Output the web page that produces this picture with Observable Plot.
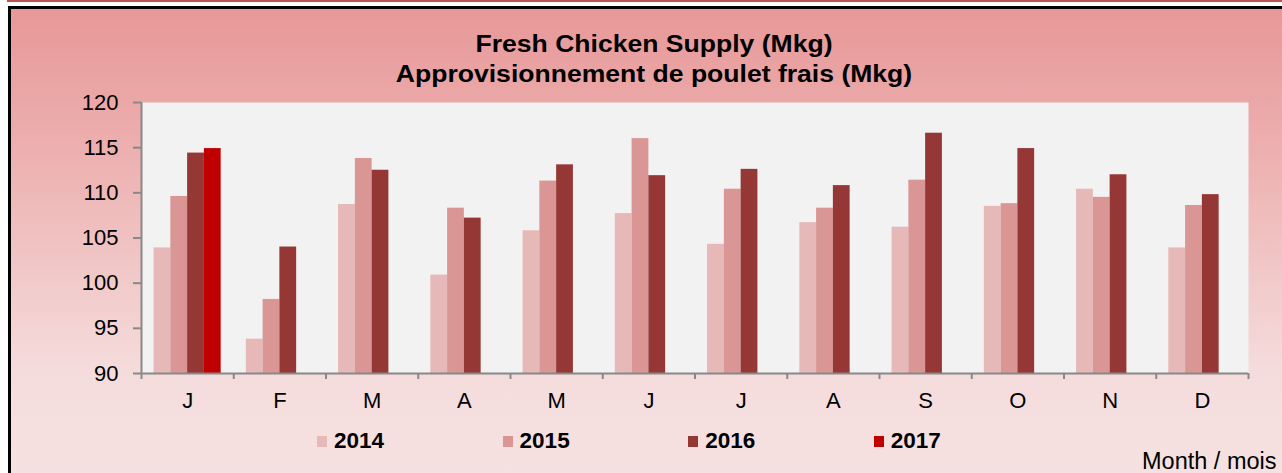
<!DOCTYPE html>
<html>
<head>
<meta charset="utf-8">
<script src="https://cdn.jsdelivr.net/npm/d3@7"></script>
<script src="https://cdn.jsdelivr.net/npm/@observablehq/plot@0.6"></script>
<style>
  html, body { margin: 0; padding: 0; background: #fff; }
  body { font-family: "Liberation Sans", Arial, sans-serif; }
  #wrap { position: relative; width: 1282px; height: 473px; overflow: hidden; background: #fff; }
  #redline { position: absolute; left: 7px; top: 0; width: 1280px; height: 2px; background: #C0504D; }
  #box { position: absolute; left: 8px; top: 6px; width: 1300px; height: 490px; box-sizing: border-box;
         border: 3px solid #000; background: linear-gradient(to bottom, #E79898 0%, #EDB0B0 30%, #F5DCDC 75%, #F6E2E2 100%); }
  #title { position: absolute; left: 0; top: 29px; width: 1308px; text-align: center; font-weight: bold;
           font-size: 23.5px; line-height: 30px; color: #000; transform: scaleX(1.13); transform-origin: 654px 0; }
  #chart { position: absolute; left: 0; top: 0; }
  #legend { position: absolute; left: 0; top: 0; width: 1282px; height: 473px; pointer-events: none; }
  .item { position: absolute; top: 427px; height: 28px; display: flex; align-items: center; }
  .sw { width: 10px; height: 11px; margin-right: 7px; }
  .lt { display: inline-block; font-weight: bold; font-size: 22.5px; color: #000; }
  #unit { position: absolute; left: 1142px; top: 446px; font-size: 23.5px; line-height: 30px; color: #000; }
</style>
</head>
<body>
<div id="wrap">
  <div id="redline"></div>
  <div id="box"></div>
  <div id="title">Fresh Chicken Supply (Mkg)<br>Approvisionnement de poulet frais (Mkg)</div>
  <div id="chart"></div>
  <div id="legend"></div>
  <div id="unit">Month / mois</div>
</div>
<script>
// ---- data ----
const months = ["J", "F", "M", "A", "M", "J", "J", "A", "S", "O", "N", "D"];
const years = ["2014", "2015", "2016", "2017"];
const s2014 = [103.9, 93.8, 108.7, 100.9, 105.8, 107.7, 104.3, 106.7, 106.2, 108.5, 110.4, 103.9];
const s2015 = [109.6, 98.2, 113.8, 108.3, 111.3, 116.0, 110.4, 108.3, 111.4, 108.8, 109.5, 108.6];
const s2016 = [114.4, 104.0, 112.5, 107.2, 113.1, 111.9, 112.6, 110.8, 116.6, 114.9, 112.0, 109.8];
const s2017 = [114.9, null, null, null, null, null, null, null, null, null, null, null];
const yTicks = [90, 95, 100, 105, 110, 115, 120];
const colors = ["#E6B8B7", "#DA9694", "#953735", "#C00000"];

// ---- layout within each month slot (Excel gap width 150%) ----
const barW = 1 / 5.5;
const gapOff = 0.75 / 5.5;

const series = [s2014, s2015, s2016, s2017];
const rows = [];
series.forEach((s, k) => s.forEach((v, i) => {
  if (v != null) rows.push({month: i, k, year: years[k], value: v});
}));

const yMin = yTicks[0], yMax = yTicks[yTicks.length - 1];

const chart = Plot.plot({
  width: 1282,
  height: 473,
  marginLeft: 141,
  marginRight: 34,
  marginTop: 102,
  marginBottom: 100,
  style: { background: "transparent", fontFamily: "'Liberation Sans', Arial, sans-serif", color: "#000" },
  x: { type: "linear", domain: [0, months.length], axis: null },
  y: { domain: [yMin, yMax], axis: null },
  color: { domain: years, range: colors },
  marks: [
    Plot.frame({ fill: "#F2F2F2", stroke: null }),
    Plot.rectY(rows, {
      x1: d => d.month + gapOff + d.k * barW,
      x2: d => d.month + gapOff + (d.k + 1) * barW,
      y1: () => yMin,
      y2: "value",
      fill: "year"
    }),
    Plot.axisY(yTicks, { label: null, tickSize: 8, tickPadding: 15, fontSize: 22, stroke: "#888", strokeWidth: 2, fill: "#000" }),
    Plot.axisX(d3.range(months.length + 1), { label: null, tickSize: 6, tickFormat: () => "", stroke: "#888", strokeWidth: 2 }),
    Plot.axisX(d3.range(months.length).map(i => i + 0.5), {
      label: null, tickSize: 0, tickPadding: 19, fontSize: 22, fill: "#000",
      tickFormat: d => months[Math.floor(d)]
    }),
    Plot.ruleX([0], { stroke: "#888", strokeWidth: 2 }),
    Plot.ruleY([yMin], { stroke: "#888", strokeWidth: 2 })
  ]
});
document.getElementById("chart").appendChild(chart);

// ---- legend ----
const legend = document.getElementById("legend");
years.forEach((y, i) => {
  const it = document.createElement("div");
  it.className = "item";
  it.style.left = (317 + i * 185.6) + "px";
  it.innerHTML = `<span class="sw" style="background:${colors[i]}"></span><span class="lt">${y}</span>`;
  legend.appendChild(it);
});
</script>
</body>
</html>
